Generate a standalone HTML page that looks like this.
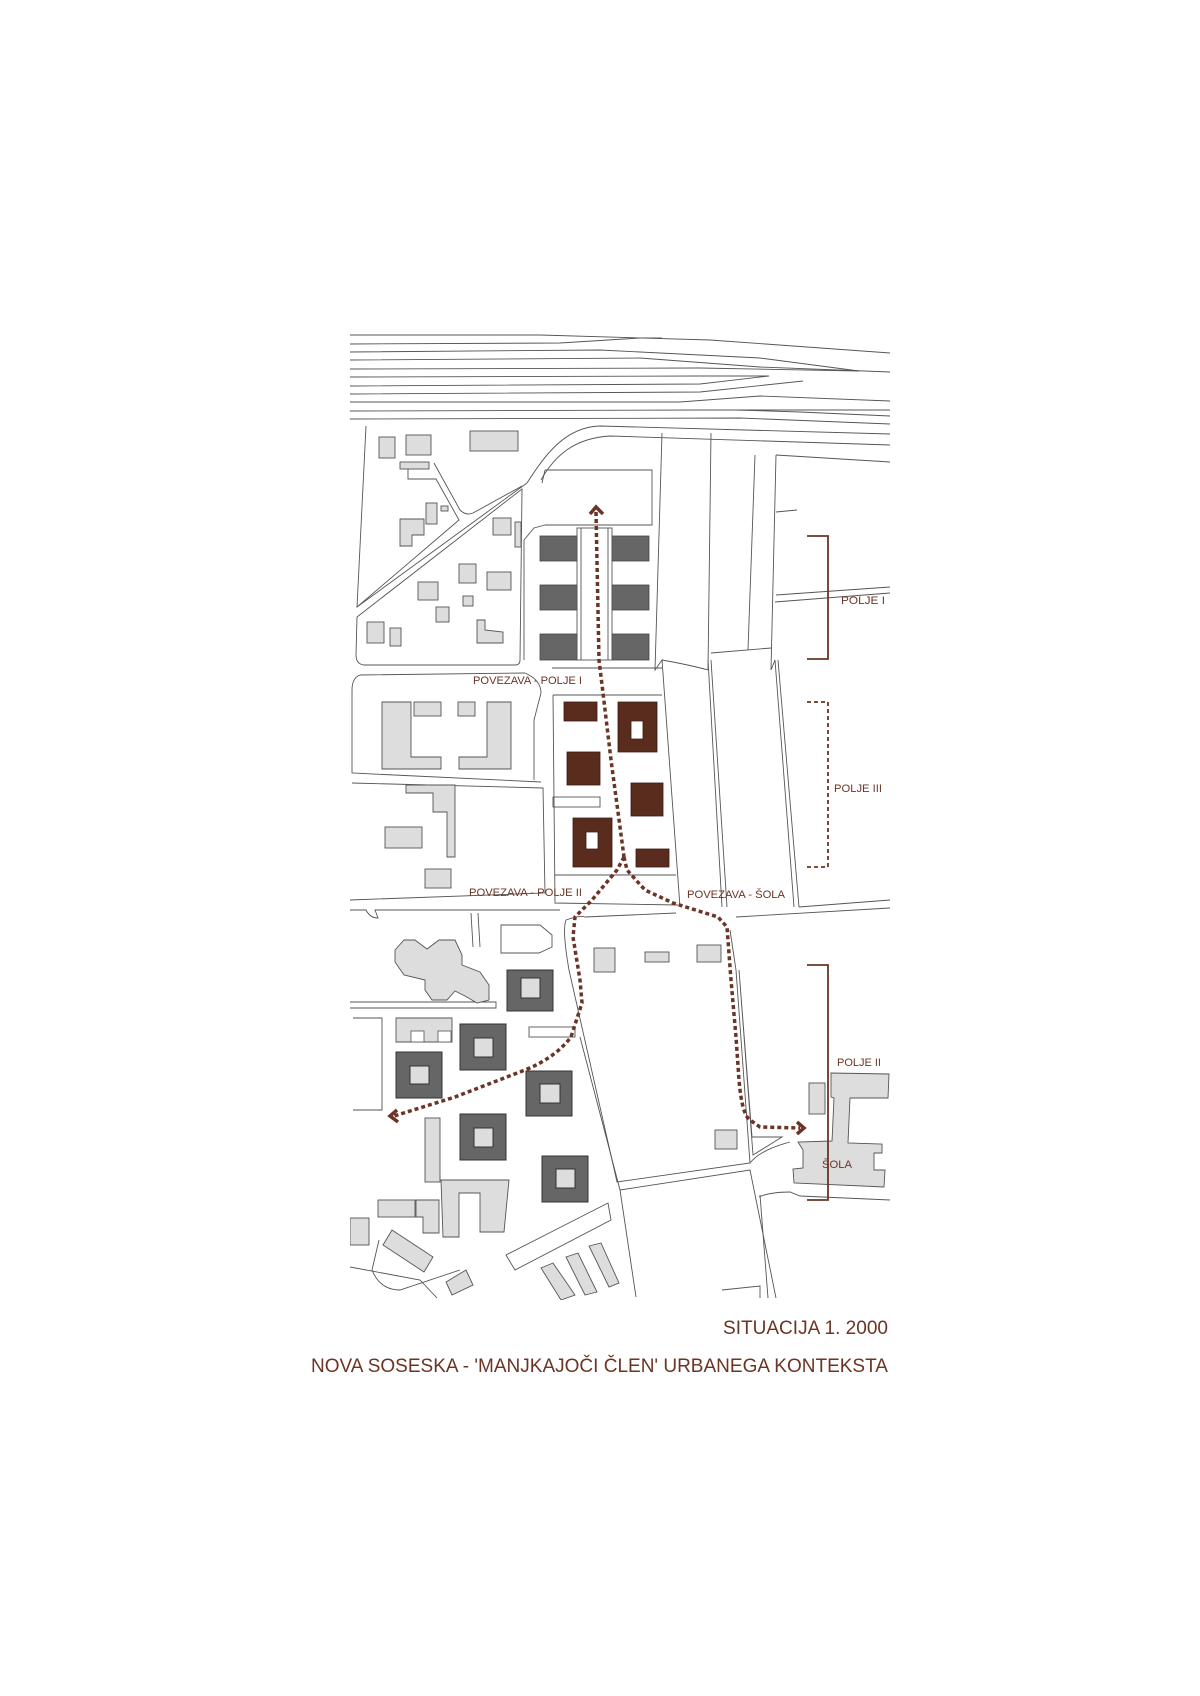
<!DOCTYPE html>
<html><head><meta charset="utf-8"><style>
html,body{margin:0;padding:0;background:#fff;}
svg{display:block}
</style></head><body>
<svg width="1200" height="1696" viewBox="0 0 1200 1696" xmlns="http://www.w3.org/2000/svg">
<defs><clipPath id="m"><rect x="350" y="330" width="545" height="970"/></clipPath></defs>
<g clip-path="url(#m)" fill="none" stroke="#555" stroke-width="0.9">
<!-- railway -->
<path d="M350,335 L540,335 L710,340 L890,353"/>
<path d="M350,344 L560,343 L640,338 L662,338"/>
<path d="M350,352 L600,350 L760,358 L859,371"/>
<path d="M350,360 L640,358 L760,367 L890,372"/>
<path d="M350,369 L700,368 L859,371"/>
<path d="M350,377 L700,376 L769,376"/>
<path d="M350,386 L700,384 L769,376"/>
<path d="M350,394 L700,392 L803,381"/>
<path d="M350,402 L680,402 L760,396 L890,401"/>
<path d="M350,411 L700,410 L890,410"/>
<path d="M350,419 L740,418 L890,424"/>
<path d="M735,410 L800,412 L890,416"/>
<!-- roads top -->
<path d="M527,483 C545,455 565,427 600,426 L890,434"/>
<path d="M541,480 C555,455 575,438 610,436 L890,445"/>
<path d="M366,426 L357,607 L527,483"/>
<path d="M357,617 L522,489 L520,660 Q520,665 515,665 L364,665 Q356,664 356,655 Z"/>
<path d="M434,463 L460,510 Q466,516 473,513 L522,486"/>
<path d="M408,469 L408,479 L436,479 L459,520 L357,607"/>
<path d="M545,470 L652,470 L652,525 L545,525"/>
<path d="M545,470 L542,483 M545,525 L534,528 L524,540 L524,660"/>
<path d="M662,433 L655,670 L662,660 L680,907"/>
<path d="M711,433 L708,670 L708,660 L722,907"/>
<path d="M711,660 L727,907"/>
<path d="M755,455 L748,650"/>
<path d="M776,455 L771,670 L775,660 L794,907"/>
<path d="M778,660 L799,907"/>
<path d="M776,455 L890,462"/>
<path d="M776,512 L797,510"/>
<path d="M776,595 L890,587 M775,602 L890,593"/>
<path d="M711,653 L771,648"/>
<path d="M662,660 Q690,665 708,670"/>
<!-- middle roads -->
<path d="M360,675 L525,673 Q541,680 541,693 L534,720 L534,780"/>
<path d="M360,675 Q352,678 352,690 L352,773 L541,782"/>
<path d="M352,783 L543,788 L545,893 L350,900"/>
<path d="M552,668 L662,668 M553,695 L662,695 M553,695 L555,903 L678,905"/>
<path d="M555,875 L676,875"/>
<rect x="553" y="797" width="47" height="10"/>
<path d="M799,907 L890,900 M736,917 L890,908"/>
<path d="M350,910 L366,910 Q370,918 378,918 L375,910 L560,910"/>
<path d="M471,913 L473,947 M478,913 L480,947"/>
<path d="M501,925 L540,925 L552,935 L552,947 L539,953 L501,953 Z"/>
<path d="M566,920 Q580,915 585,917 L676,913"/>
<path d="M566,920 Q562,930 569,970 L617,1182 L750,1163 L736,970 L730,930"/>
<path d="M580,1037 L620,1190 L636,1297"/>
<path d="M620,1190 L750,1170 L776,1298"/>
<path d="M739,970 L752,1137 L782,1137 L753,1155 Z"/>
<path d="M759,1197 Q770,1192 790,1192 L800,1196 L890,1200"/>
<path d="M760,1195 L768,1298"/>
<path d="M750,1163 Q760,1150 790,1142"/>
<path d="M350,1002 L496,1002 L496,1008 L453,1008 M350,1008 L453,1008"/>
<path d="M353,1018 L382,1018 L382,1110 L353,1110"/>
<rect x="529" y="1027" width="46" height="10"/>
<path d="M506,1255 L608,1203 L611,1220 L515,1270 Z"/>
<path d="M350,1267 L420,1280 L437,1298"/>
<path d="M379,1240 L372,1270 Q380,1290 400,1290 L460,1270"/>
<path d="M722,1290 L760,1286 L760,1298"/>
</g>
<!-- light gray buildings -->
<g fill="#ddd" stroke="#555" stroke-width="0.9" clip-path="url(#m)">
<rect x="379" y="437" width="16" height="21"/>
<rect x="406" y="435" width="25" height="20"/>
<rect x="470" y="431" width="48" height="20"/>
<rect x="400" y="462" width="29" height="7"/>
<rect x="426" y="503" width="11" height="21"/>
<rect x="441" y="506" width="7" height="5"/>
<path d="M400,519 L424,519 L424,535 L412,535 L412,546 L400,546 Z"/>
<rect x="493" y="518" width="18" height="17"/>
<rect x="515" y="522" width="6" height="25"/>
<rect x="459" y="564" width="17" height="19"/>
<rect x="487" y="572" width="24" height="18"/>
<rect x="418" y="582" width="20" height="18"/>
<rect x="463" y="596" width="10" height="10"/>
<rect x="436" y="607" width="13" height="15"/>
<rect x="367" y="622" width="17" height="21"/>
<rect x="390" y="628" width="11" height="18"/>
<path d="M477,620 L485,620 L485,630 L503,632 L503,643 L477,643 Z"/>
<path d="M382,702 L411,702 L411,757 L441,757 L441,769 L382,769 Z"/>
<path d="M487,702 L511,702 L511,769 L459,769 L459,757 L487,757 Z"/>
<rect x="414" y="702" width="27" height="14"/>
<rect x="458" y="702" width="17" height="14"/>
<path d="M406,785 L455,785 L455,857 L447,857 L447,812 L433,812 L433,793 L406,793 Z"/>
<rect x="385" y="827" width="37" height="21"/>
<rect x="425" y="869" width="26" height="19"/>
<path d="M404,940 L415,940 L427,949 L439,940 L455,940 L462,955 L462,965 L480,972 L489,985 L489,1000 L477,1003 L465,996 L455,991 L447,1000 L432,1000 L425,990 L425,980 L404,975 L395,962 L395,950 Z"/>
<rect x="594" y="948" width="21" height="24"/>
<rect x="645" y="952" width="24" height="10"/>
<rect x="697" y="945" width="24" height="17"/>
<path d="M396,1018 L452,1018 L452,1042 L396,1042 Z"/>
<rect x="425" y="1118" width="15" height="64"/>
<path d="M441,1180 L509,1180 L504,1232 L480,1232 L480,1193 L459,1193 L459,1237 L443,1237 Z"/>
<rect x="378" y="1200" width="37" height="17"/>
<path d="M416,1200 L439,1200 L439,1233 L423,1233 L423,1217 L416,1217 Z"/>
<rect x="350" y="1218" width="19" height="27"/>
<path d="M392,1230 L433,1257 L424,1272 L383,1245 Z"/>
<path d="M446,1282 L466,1270 L473,1285 L452,1295 Z"/>
<path d="M541,1268 L553,1263 L575,1295 L561,1300 Z"/>
<path d="M566,1257 L578,1253 L597,1292 L585,1295 Z"/>
<path d="M589,1246 L601,1243 L619,1283 L609,1287 Z"/>
<rect x="715" y="1130" width="22" height="19"/>
<rect x="809" y="1083" width="16" height="31"/>
<path d="M831,1073 L889,1074 L888,1098 L850,1098 L848,1143 L882,1144 L882,1153 L874,1153 L874,1170 L885,1170 L884,1187 L794,1183 L793,1169 L803,1168 L803,1150 L798,1142 L832,1141 L834,1098 L831,1097 Z"/>
</g>
<g fill="#fff" stroke="#555" stroke-width="0.8">
<rect x="411" y="1031" width="13" height="11"/>
<rect x="438" y="1031" width="13" height="11"/>
</g>
<!-- dark gray upper -->
<g fill="#666" stroke="#444" stroke-width="0.8">
<rect x="540" y="536" width="37" height="25"/><rect x="612" y="536" width="37" height="25"/>
<rect x="540" y="585" width="37" height="25"/><rect x="612" y="585" width="37" height="25"/>
<rect x="540" y="634" width="37" height="26"/><rect x="612" y="634" width="37" height="26"/>
</g>
<g fill="none" stroke="#555" stroke-width="0.9">
<rect x="577" y="528" width="35" height="132"/>
<path d="M581,528 L581,660 M608,528 L608,660"/>
</g>
<!-- lower dark squares -->
<g stroke="#333" stroke-width="1">
<g fill="#666">
<rect x="507" y="970" width="46" height="41"/>
<rect x="460" y="1024" width="46" height="46"/>
<rect x="396" y="1052" width="46" height="46"/>
<rect x="526" y="1071" width="46" height="45"/>
<rect x="460" y="1114" width="46" height="46"/>
<rect x="542" y="1156" width="46" height="46"/>
</g>
<g fill="#ddd">
<rect x="521" y="978" width="19" height="20"/>
<rect x="474" y="1038" width="19" height="19"/>
<rect x="410" y="1066" width="19" height="18"/>
<rect x="540" y="1084" width="20" height="19"/>
<rect x="474" y="1128" width="19" height="19"/>
<rect x="556" y="1169" width="19" height="19"/>
</g>
</g>
<!-- brown -->
<g fill="#5a2c1d" stroke="#3a1a10" stroke-width="0.8">
<rect x="564" y="702" width="33" height="19"/>
<path d="M618,702 H657 V752 H618 Z M631,721 V739 H643 V721 Z" fill-rule="evenodd"/>
<rect x="567" y="752" width="33" height="33"/>
<rect x="631" y="783" width="32" height="33"/>
<path d="M573,818 H612 V867 H573 Z M586,832 V849 H598 V832 Z" fill-rule="evenodd"/>
<rect x="636" y="849" width="33" height="18"/>
</g>
<!-- dashed paths -->
<g fill="none" stroke="#6b3424" stroke-width="3.5" stroke-dasharray="4 3">
<path d="M596,512 L599,660 L603,693 L611,760 L620,827 L624,857"/>
<path d="M624,857 L617,870 L592,900 L575,917 L573,937 L580,980 L582,1003 L571,1037 Q555,1058 525,1070 L455,1097 L394,1116"/>
<path d="M624,857 L627,870 L645,890 L673,903 L718,917 L727,927 L731,980 L736,1037 L739,1080 Q742,1115 750,1120 L760,1127 L800,1128"/>
</g>
<g fill="none" stroke="#6b3424" stroke-width="3.5">
<path d="M590,514 L596,507 L603,514"/>
<path d="M397,1110 L390,1116 L398,1122"/>
<path d="M797,1122 L804,1128 L797,1134"/>
</g>
<!-- brackets -->
<g fill="none" stroke="#6b3424" stroke-width="1.8">
<path d="M807,536 H828 V659 H807"/>
<path d="M807,702 H828 V867 H807" stroke-dasharray="4 3"/>
<path d="M807,965 H828 V1200 H807"/>
</g>
<g font-family="'Liberation Sans', sans-serif" fill="#6b3424" font-size="11">
<text x="841" y="604" textLength="44" lengthAdjust="spacingAndGlyphs">POLJE I</text>
<text x="834" y="792" textLength="48" lengthAdjust="spacingAndGlyphs">POLJE III</text>
<text x="837" y="1066" textLength="44" lengthAdjust="spacingAndGlyphs">POLJE II</text>
<text x="822" y="1168" textLength="30" lengthAdjust="spacingAndGlyphs">ŠOLA</text>
<text x="473" y="684" textLength="109" lengthAdjust="spacingAndGlyphs">POVEZAVA - POLJE I</text>
<text x="469" y="896" textLength="113" lengthAdjust="spacingAndGlyphs">POVEZAVA - POLJE II</text>
<text x="687" y="898" textLength="98" lengthAdjust="spacingAndGlyphs">POVEZAVA - ŠOLA</text>
</g>
<g font-family="'Liberation Sans', sans-serif" fill="#6b3424" font-size="19">
<text x="723" y="1334" textLength="165" lengthAdjust="spacingAndGlyphs">SITUACIJA 1. 2000</text>
<text x="311" y="1372" textLength="577" lengthAdjust="spacingAndGlyphs">NOVA SOSESKA - 'MANJKAJOČI ČLEN' URBANEGA KONTEKSTA</text>
</g>
</svg>
</body></html>
